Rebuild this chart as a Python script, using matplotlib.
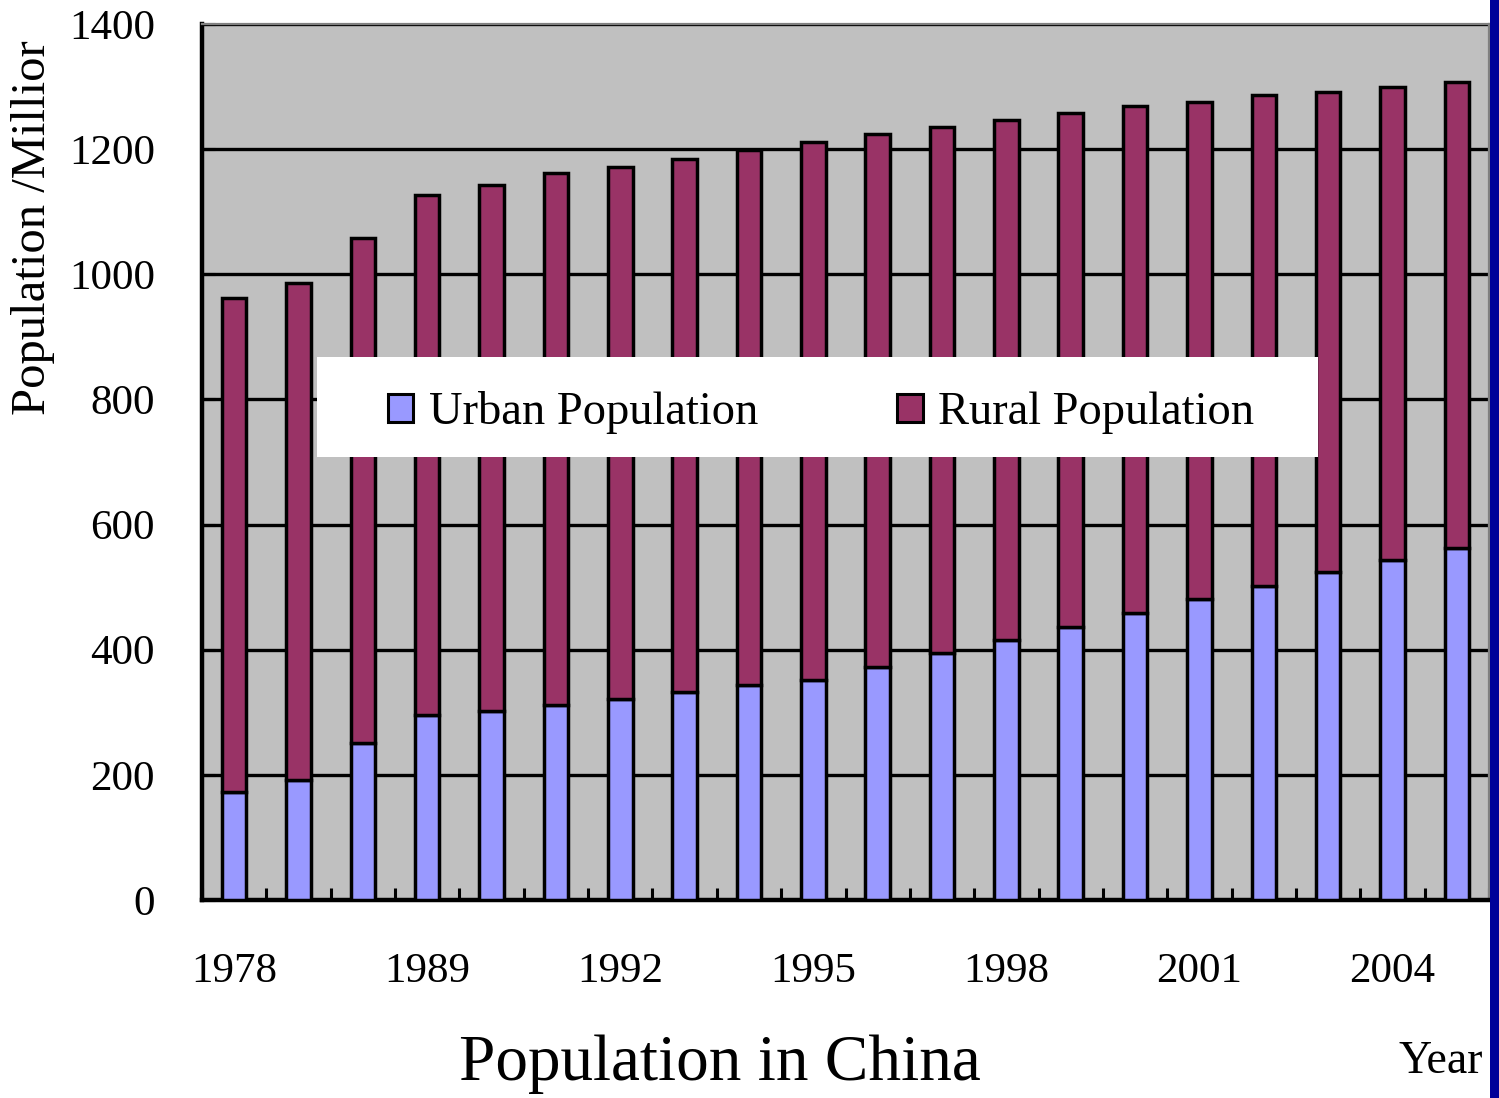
import matplotlib
matplotlib.use("Agg")
import matplotlib.pyplot as plt
from matplotlib.patches import Rectangle, Patch
from matplotlib.ticker import FixedLocator, NullFormatter
import numpy as np

# Population of China, millions
years = ["1978", "1980", "1985", "1989", "1990", "1991", "1992", "1993", "1994", "1995",
         "1996", "1997", "1998", "1999", "2000", "2001", "2002", "2003", "2004", "2005"]
urban = [172, 191, 251, 295, 302, 312, 322, 333, 343, 352,
         373, 394, 416, 437, 459, 481, 502, 524, 543, 562]
rural = [790, 795, 807, 832, 841, 850, 850, 852, 856, 859,
         851, 841, 831, 821, 810, 795, 785, 768, 757, 746]
y_ticks = [0, 200, 400, 600, 800, 1000, 1200, 1400]
labelled_years = ["1978", "1989", "1992", "1995", "1998", "2001", "2004"]

URBAN_C = "#9999FF"
RURAL_C = "#993366"
PLOT_BG = "#C0C0C0"

plt.rcParams["font.family"] = ["Liberation Serif", "DejaVu Serif"]

fig = plt.figure(figsize=(14.99, 10.98), dpi=100)
W, H = 1499, 1098
ax = fig.add_axes([202 / W, (H - 900) / H, 1287 / W, 876 / H])
ax.set_facecolor(PLOT_BG)

x = np.arange(len(years))
bw = 0.38
ax.bar(x, urban, width=bw, color=URBAN_C, edgecolor="black", linewidth=2.5, zorder=3)
ax.bar(x, rural, width=bw, bottom=urban, color=RURAL_C, edgecolor="black",
       linewidth=2.5, zorder=3)

ax.set_xlim(-0.5, len(years) - 0.5)
ax.set_ylim(0, 1400)

# horizontal gridlines
ax.set_yticks(y_ticks)
ax.set_yticklabels([str(v) for v in y_ticks])
ax.yaxis.grid(True, color="black", linewidth=2.4, zorder=1)
ax.set_axisbelow(True)

# x labels every third category, tick marks at category boundaries
label_pos = [years.index(y) for y in labelled_years]
ax.set_xticks(label_pos)
ax.set_xticklabels(labelled_years)
ax.xaxis.set_minor_locator(FixedLocator(np.arange(-0.5, len(years), 1.0)))
ax.xaxis.set_minor_formatter(NullFormatter())
ax.tick_params(axis="x", which="major", length=0, pad=38, labelsize=31)
ax.tick_params(axis="x", which="minor", direction="in", length=9, width=2.2,
               color="black")
ax.tick_params(axis="y", which="major", direction="in", length=9, width=2.2,
               pad=34, labelsize=31)

for side in ("left", "bottom"):
    ax.spines[side].set_linewidth(3.2)
    ax.spines[side].set_color("black")
for side in ("top", "right"):
    ax.spines[side].set_linewidth(1.6)
    ax.spines[side].set_color("#808080")

# legend panel
ax.add_patch(Rectangle((0.0894, 0.5057), 0.7777, 0.1142, transform=ax.transAxes,
                       facecolor="white", edgecolor="none", zorder=5))
handles = [Patch(facecolor=URBAN_C, edgecolor="black", linewidth=2.2),
           Patch(facecolor=RURAL_C, edgecolor="black", linewidth=2.2)]
leg = ax.legend(handles, ["Urban Population", "Rural Population"], ncol=2,
                loc="center", bbox_to_anchor=(0.481, 0.556), frameon=False,
                fontsize=33.5, handlelength=0.55, handleheight=0.55,
                handletextpad=0.33, columnspacing=3.0)
leg.set_zorder(6)

fig.text(33 / W, 1 - 228 / H, "Population /Millior", rotation=90, ha="center",
         va="center", fontsize=35)
fig.text(720 / W, 1 - 1064 / H, "Population in China", ha="center", va="center",
         fontsize=47)
fig.text(1441 / W, 1 - 1062 / H, "Year", ha="center", va="center", fontsize=33)

# dark blue strip along the right edge
fig.add_artist(Rectangle((1490 / W, 0), 9 / W, 1, transform=fig.transFigure,
                         facecolor="#000099", edgecolor="none"))

fig.savefig("out.png", dpi=100, facecolor="white")
